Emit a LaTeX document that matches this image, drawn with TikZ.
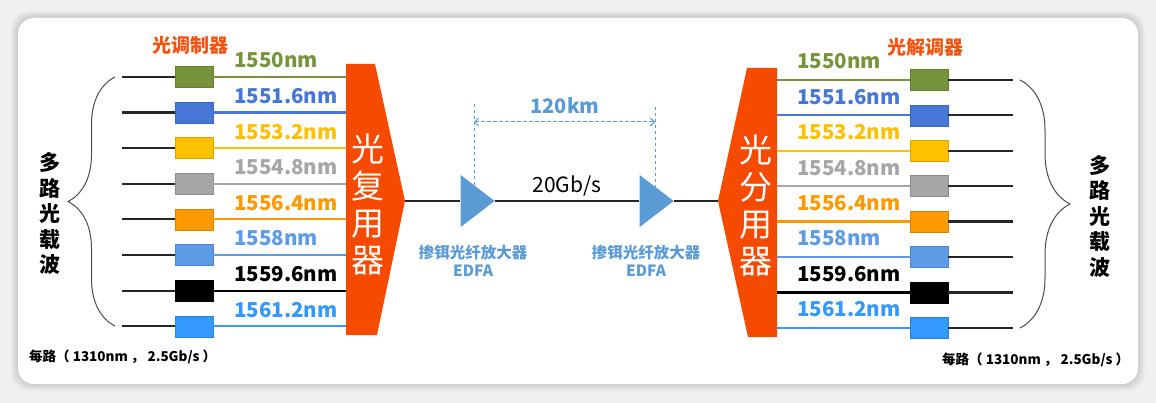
\documentclass[tikz,border=0pt]{standalone}
\usepackage{fontspec}
\setmainfont{Noto Sans CJK SC}
\usetikzlibrary{shapes.geometric,decorations.pathreplacing,arrows.meta}

\definecolor{pagegray}{HTML}{F0F0F0}
\definecolor{wgreen}{HTML}{77933C}
\definecolor{wblue}{HTML}{4677D6}
\definecolor{wgold}{HTML}{FFC000}
\definecolor{wgray}{HTML}{A6A6A6}
\definecolor{worange}{HTML}{FF9900}
\definecolor{wsky}{HTML}{5E9BE6}
\definecolor{wblack}{HTML}{000000}
\definecolor{wazure}{HTML}{3399FF}
\definecolor{muxred}{HTML}{F54A00}
\definecolor{tagred}{HTML}{F5520F}
\definecolor{edfablue}{HTML}{5B9BD5}

\tikzset{
  chan/.style={draw=#1!85!black, fill=#1, minimum width=38pt, minimum height=21pt, inner sep=0pt},
  wl/.style={font=\bfseries\fontsize{20.5}{20.5}\selectfont, text=#1, inner sep=0pt},
  fibre/.style={line width=2.2pt, #1},
  muxtext/.style={text=white, align=center, inner sep=0pt, font=\fontsize{33}{37}\selectfont},
  sidetext/.style={align=center, inner sep=0pt, font=\bfseries\fontsize{21}{25.5}\selectfont},
  tag/.style={text=tagred, inner sep=0pt, font=\bfseries\fontsize{19}{19}\selectfont},
  amp/.style={isosceles triangle, isosceles triangle stretches, shape border rotate=0,
    minimum width=52pt, minimum height=34pt, inner sep=0pt, fill=edfablue},
  amplabel/.style={text=edfablue, align=center, inner sep=0pt, font=\bfseries\fontsize{15.5}{18}\selectfont},
  dim/.style={edfablue, line width=1pt, dash pattern=on 3.5pt off 2.5pt},
  carrier/.style={draw=black!70, line width=1pt, decorate, decoration={brace, amplitude=#1}},
  note/.style={inner sep=0pt, font=\bfseries\fontsize{13.5}{13.5}\selectfont}
}

\begin{document}
\begin{tikzpicture}[x=1pt, y=-1pt]

  \newcommand\RowL{35.6}
  \newcommand\RowR{35.4}

  %% page and card
  \useasboundingbox (0,0) rectangle (1156,403);
  \fill[pagegray] (0,0) rectangle (1156,403);
  \foreach \s in {1,...,7}
    \fill[black, opacity=0.018, rounded corners=18pt] (18-\s,18-\s) rectangle (1138+\s,384+\s);
  \fill[white, rounded corners=16pt] (18,18) rectangle (1138,384);

  %% multiplexer and demultiplexer
  \fill[muxred] (346,64) -- (375,64) -- (405,201) -- (377,335) -- (346,335) -- cycle;
  \coordinate (muxtip) at (405,201);
  \node[muxtext] (mux) at (368,204) {光\\复\\用\\器};

  \fill[muxred] (777,68) -- (747,68) -- (718,201) -- (748,337) -- (777,337) -- cycle;
  \coordinate (demuxtip) at (718,201);
  \node[muxtext] (demux) at (756,205) {光\\分\\用\\器};

  %% channels
  \foreach \i/\w/\c in {0/1550/wgreen, 1/1551.6/wblue, 2/1553.2/wgold, 3/1554.8/wgray,
                        4/1556.4/worange, 5/1558/wsky, 6/1559.6/wblack, 7/1561.2/wazure}{
    % left side
    \coordinate (lin\i) at (122, 77+\i*\RowL);
    \coordinate (lmx\i) at (346, 77+\i*\RowL);
    \node[chan=\c] (lmod\i) at (194, 77+\i*\RowL) {};
    \draw[fibre=black!85] (lin\i) -- (lmod\i.west);
    \draw[fibre=\c] (lmod\i.east) -- (lmx\i);
    \node[wl=\c, anchor=base west] (lwl\i) at (234, 68+\i*\RowL) {\w nm};
    % right side
    \coordinate (rdx\i) at (777, 80+\i*\RowR);
    \coordinate (rout\i) at (1013, 80+\i*\RowR);
    \node[chan=\c] (rdem\i) at (929, 80+\i*\RowR) {};
    \draw[fibre=\c] (rdx\i) -- (rdem\i.west);
    \draw[fibre=black!85] (rdem\i.east) -- (rout\i);
    \node[wl=\c, anchor=base west] (rwl\i) at (797, 69+\i*\RowR) {\w nm};
  }

  \node[tag, anchor=west] (modtag) at (152,45) {光调制器};
  \node[tag, anchor=west] (demtag) at (887,47) {光解调器};

  %% trunk fibre with amplifiers
  \node[amp] (amp1) at (473.5,201) {};
  \node[amp] (amp2) at (652.5,201) {};
  \draw[line width=2.2pt, black!85] (muxtip) -- (amp1.west);
  \draw[line width=2.2pt, black!85] (amp1.apex) -- (amp2.west);
  \draw[line width=2.2pt, black!85] (amp2.apex) -- (demuxtip);
  \node[inner sep=0pt, font=\fontsize{21}{21}\selectfont] (rate) at (567,186) {20Gb/s};

  \node[amplabel] (lab1) at (473,261) {掺铒光纤放大器\\EDFA};
  \node[amplabel] (lab2) at (646,261) {掺铒光纤放大器\\EDFA};

  %% span
  \coordinate (d1t) at (474,104);
  \coordinate (d1b) at (474,186);
  \coordinate (d2t) at (655,107);
  \coordinate (d2b) at (655,190);
  \draw[dim] (d1t) -- (d1b);
  \draw[dim] (d2t) -- (d2b);
  \draw[dim, {Straight Barb[length=4pt]}-{Straight Barb[length=4pt]}] (474,122) -- (655,122);
  \node[text=edfablue, inner sep=0pt, font=\bfseries\fontsize{20}{20}\selectfont] (span) at (565,106) {120km};

  %% carriers
  \draw[carrier=47pt] (115,326) -- (115,77);
  \draw[carrier=50pt] (1020,80) -- (1020,328);
  \node[sidetext] (lside) at (50,213.5) {多\\路\\光\\载\\波};
  \node[sidetext] (rside) at (1100,216) {多\\路\\光\\载\\波};

  \node[note, anchor=west] (lnote) at (29,357) {每路（ 1310nm ， 2.5Gb/s ）};
  \node[note, anchor=west] (rnote) at (942,360) {每路（ 1310nm ， 2.5Gb/s ）};

\end{tikzpicture}
\end{document}
